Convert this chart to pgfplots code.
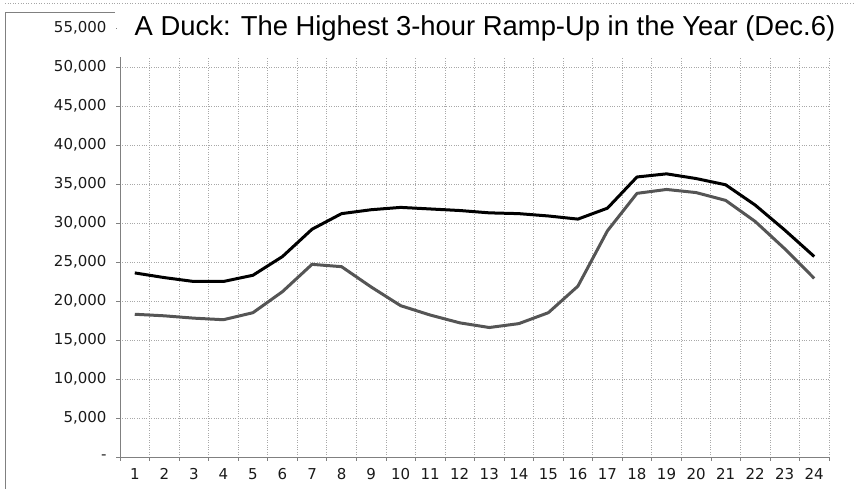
\documentclass[border=0pt]{standalone}
\usepackage{fontspec}
\usepackage{pgfplots}
\pgfplotsset{compat=1.18}
\setmainfont{DejaVu Sans}
\newfontfamily\titlefont{Liberation Sans}
\newfontfamily\tickfont{DejaVu Sans}
\definecolor{grayline}{HTML}{555555}
\definecolor{gridc}{HTML}{A8A8A8}
\begin{document}
\begin{tikzpicture}
\path[use as bounding box] (0pt,0pt) rectangle (858pt,489pt);
\begin{axis}[
  at={(120pt,32pt)}, anchor=south west,
  scale only axis, width=709pt, height=429pt,
  xmin=0.5, xmax=24.5, ymin=0, ymax=55000,
  scaled y ticks=false,
  xtick={1,...,24},
  minor xtick={0.5,1.5,...,24.5},
  ytick={0,5000,...,55000},
  yticklabels={{-},{5,000},{10,000},{15,000},{20,000},{25,000},{30,000},{35,000},{40,000},{45,000},{50,000},{55,000}},
  /pgf/number format/assume math mode=true,
  ticklabel style={font=\tickfont\fontsize{15}{15}\selectfont, text=black!90},
  xticklabel style={yshift=-4pt},
  yticklabel style={xshift=-6pt},
  tick align=outside,
  x tick style={draw=none},
  minor x tick style={draw=gray, line width=0.6pt},
  minor tick length=4pt,
  y tick style={draw=gray, line width=0.6pt},
  major tick length=4pt,
  xminorgrids=true, xmajorgrids=false, ymajorgrids=true,
  minor grid style={gridc, dotted, line width=0.7pt},
  major grid style={gridc, dotted, line width=0.7pt},
  axis x line*=bottom, axis y line*=left,
  axis line style={gray, line width=0.8pt, -},
  clip=false,
]
\addplot[black, line width=3pt, line join=round] coordinates {
(1,23600) (2,23000) (3,22500) (4,22500) (5,23300) (6,25700) (7,29200) (8,31200)
(9,31700) (10,32000) (11,31800) (12,31600) (13,31300) (14,31200) (15,30900) (16,30500)
(17,31900) (18,35900) (19,36300) (20,35700) (21,34900) (22,32300) (23,29100) (24,25700)
};
\addplot[grayline, line width=3pt, line join=round] coordinates {
(1,18300) (2,18100) (3,17800) (4,17600) (5,18500) (6,21200) (7,24700) (8,24400)
(9,21800) (10,19400) (11,18200) (12,17200) (13,16600) (14,17100) (15,18500) (16,21900)
(17,29000) (18,33800) (19,34300) (20,33900) (21,32900) (22,30200) (23,26700) (24,22900)
};
\end{axis}
\fill[white] (117pt,432pt) rectangle (832pt,463pt);
\node[font=\titlefont\fontsize{27.4}{30}\selectfont, anchor=center] at (485pt,461pt) {A Duck: The Highest 3-hour Ramp-Up in the Year (Dec.6)};
\draw[gray, line width=0.8pt] (5pt,0pt) -- (5pt,477pt) -- (115pt,477pt);
\draw[gray!70, dotted, line width=0.6pt] (5pt,486pt) -- (855pt,486pt);
\end{tikzpicture}
\end{document}
